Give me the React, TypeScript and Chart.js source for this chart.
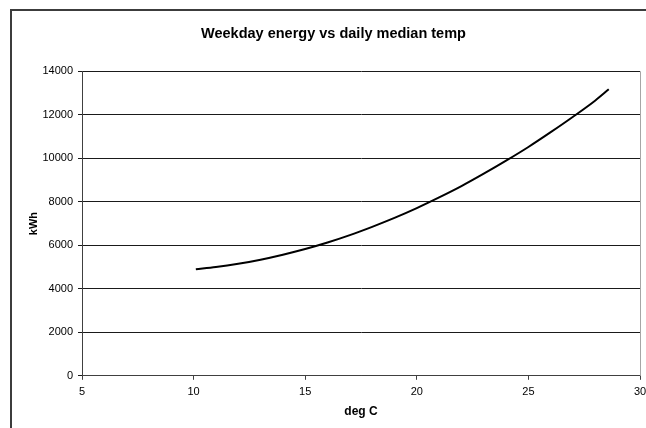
import React, { useEffect, useRef } from "react";
import { Chart, registerables } from "chart.js";

Chart.register(...registerables);

const chartTitle = "Weekday energy vs daily median temp";
const xAxisTitle = "deg C";
const yAxisTitle = "kWh";

const tempC = [10.1, 11, 12, 13, 14, 15, 16, 17, 18, 19, 20, 21, 22, 23, 24, 25, 26, 27, 28, 28.6];
const kwh = [4900, 5000, 5150, 5340, 5570, 5830, 6130, 6470, 6850, 7260, 7710, 8200, 8720, 9290, 9890, 10520, 11200, 11910, 12660, 13170];

const xMin = 5;
const xMax = 30;
const xStep = 5;
const yMin = 0;
const yMax = 14000;
const yStep = 2000;

const FONT = "'Liberation Sans', Arial, sans-serif";

const rightBorder = {
  id: "rightBorder",
  afterDraw(chart: any) {
    const { ctx, chartArea } = chart;
    ctx.save();
    ctx.strokeStyle = "#a6a6a6";
    ctx.lineWidth = 1;
    ctx.beginPath();
    ctx.moveTo(chartArea.right + 0.5, chartArea.top);
    ctx.lineTo(chartArea.right + 0.5, chartArea.bottom);
    ctx.stroke();
    ctx.restore();
  },
};

export default function App() {
  const ref = useRef<HTMLCanvasElement | null>(null);

  useEffect(() => {
    if (!ref.current) return;
    const points = tempC.map((t, i) => ({ x: t, y: kwh[i] }));
    const chart = new Chart(ref.current, {
      type: "line",
      data: {
        datasets: [
          {
            data: points,
            borderColor: "#000000",
            borderWidth: 2,
            pointRadius: 0,
            cubicInterpolationMode: "monotone",
            fill: false,
          },
        ],
      },
      options: {
        animation: false,
        responsive: false,
        devicePixelRatio: 1,
        layout: { padding: { left: 27, right: 6, top: 0, bottom: 3 } },
        plugins: {
          legend: { display: false },
          tooltip: { enabled: false },
          title: {
            display: true,
            text: chartTitle,
            color: "#000",
            font: { family: FONT, size: 14.5, weight: "bold" },
            padding: { top: 25, bottom: 28.9 },
          },
        },
        scales: {
          x: {
            type: "linear",
            min: xMin,
            max: xMax,
            afterFit(scale: any) {
              scale.paddingLeft = 0;
              scale.paddingRight = 0;
            },
            grid: {
              display: true,
              drawOnChartArea: false,
              drawTicks: true,
              tickLength: 4,
              color: "#404040",
            },
            border: { display: true, color: "#404040", width: 1 },
            ticks: {
              stepSize: xStep,
              color: "#000",
              padding: 6,
              font: { family: FONT, size: 11 },
              maxRotation: 0,
              callback: (v: any) => String(v),
            },
            title: {
              display: true,
              text: xAxisTitle,
              color: "#000",
              font: { family: FONT, size: 12, weight: "bold" },
              padding: { top: -1, bottom: 6.6 },
            },
          },
          y: {
            type: "linear",
            min: yMin,
            max: yMax,
            afterFit(scale: any) {
              scale.width = 55;
            },
            grid: {
              display: true,
              drawOnChartArea: true,
              drawTicks: true,
              tickLength: 4,
              color: "#1a1a1a",
            },
            border: { display: true, color: "#404040", width: 1 },
            ticks: {
              stepSize: yStep,
              color: "#000",
              padding: 5,
              font: { family: FONT, size: 11 },
              callback: (v: any) => String(v),
            },
            title: {
              display: true,
              text: yAxisTitle,
              color: "#000",
              font: { family: FONT, size: 11, weight: "bold" },
              padding: { top: 0, bottom: 0 },
            },
          },
        },
      },
      plugins: [rightBorder],
    });
    return () => chart.destroy();
  }, []);

  return (
    <div>
      <div
        style={{
          position: "fixed",
          left: 10,
          top: 9,
          width: 700,
          height: 500,
          borderLeft: "2px solid #3c3c3c",
          borderTop: "2px solid #3c3c3c",
          boxSizing: "border-box",
        }}
      />
      <canvas
        ref={ref}
        width={646}
        height={428}
        style={{ position: "fixed", left: 0, top: 0, width: 646, height: 428, display: "block" }}
      />
    </div>
  );
}
